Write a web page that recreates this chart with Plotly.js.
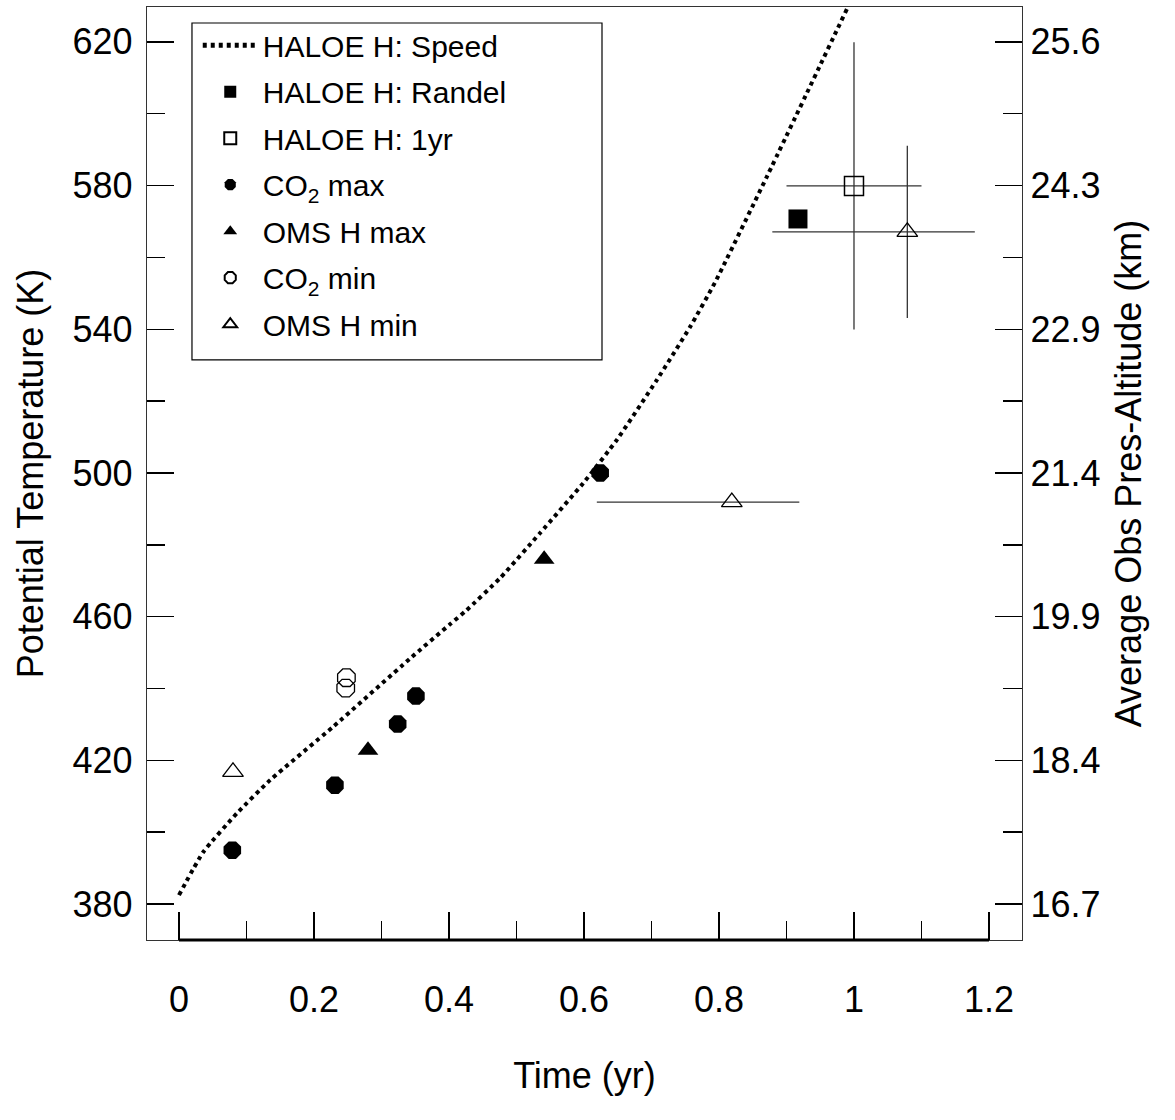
<!DOCTYPE html>
<html>
<head>
<meta charset="utf-8">
<script src="https://cdn.plot.ly/plotly-3.0.1.min.js"></script>
<style>html,body{margin:0;padding:0;background:#fff;}#chart{width:1175px;height:1120px;}</style>
</head>
<body>
<div id="chart"></div>
<script>
// HALOE H: Speed curve
const speedTime  = [0, 0.036, 0.086, 0.135, 0.228, 0.342, 0.401, 0.426, 0.476, 0.535, 0.599, 0.649, 0.708, 0.757, 0.794, 0.871, 0.991];
const speedTheta = [382.5, 394.5, 405.3, 414.5, 429.3, 448.3, 457.8, 461.8, 470.8, 483.3, 497.2, 509.3, 525.9, 540.6, 553.0, 582.5, 629.7];

// HALOE H: Randel
const randelTime  = [0.917];
const randelTheta = [570.7];

// HALOE H: 1yr
const oneYrTime   = [1.0];
const oneYrTheta  = [579.9];
const oneYrErrX   = [0.1];
const oneYrErrY   = [40];

// CO2 max
const co2MaxTime  = [0.079, 0.231, 0.324, 0.351, 0.624];
const co2MaxTheta = [395.0, 413.1, 430.1, 437.9, 500.0];

// OMS H max
const omsMaxTime  = [0.280, 0.541];
const omsMaxTheta = [422.8, 476.0];

// CO2 min
const co2MinTime  = [0.248, 0.247];
const co2MinTheta = [443.0, 440.1];

// OMS H min
const omsMinTime      = [0.080, 0.819, 1.079];
const omsMinTheta     = [416.8, 491.9, 567.1];
const omsMinErrXPlus  = [0, 0.1, 0.1];
const omsMinErrXMinus = [0, 0.2, 0.2];
const omsMinErrY      = [0, 0, 24];

// Axis ticks
const leftTickVals   = [380, 420, 460, 500, 540, 580, 620];
const rightTickText  = ['16.7', '18.4', '19.9', '21.4', '22.9', '24.3', '25.6'];
const minorTickVals  = [400, 440, 480, 520, 560, 600];

const FONT = 'Liberation Sans, Arial, sans-serif';
const errColor = '#333';

const traces = [
  {x: speedTime, y: speedTheta, mode: 'lines', name: 'HALOE H: Speed',
   line: {color: '#000', width: 4, dash: '4px,4px', shape: 'spline', smoothing: 0.5}, legendgroup: 'a'},
  {x: randelTime, y: randelTheta, mode: 'markers', name: 'HALOE H: Randel',
   marker: {symbol: 'square', size: 19, color: '#000'}, legendgroup: 'b'},
  {x: oneYrTime, y: oneYrTheta, mode: 'markers', name: 'HALOE H: 1yr',
   marker: {symbol: 'square-open', size: 19, color: '#000', line: {width: 1.5}},
   error_x: {type: 'data', array: oneYrErrX, width: 0, thickness: 1.3, color: errColor},
   error_y: {type: 'data', array: oneYrErrY, width: 0, thickness: 1.3, color: errColor},
   legendgroup: 'c'},
  {x: co2MaxTime, y: co2MaxTheta, mode: 'markers', name: 'CO<sub>2</sub> max',
   marker: {symbol: 'octagon', size: 19, color: '#000'}, legendgroup: 'd'},
  {x: omsMaxTime, y: omsMaxTheta, mode: 'markers', name: 'OMS H max',
   marker: {symbol: 'triangle-up', size: 18, color: '#000'}, legendgroup: 'e'},
  {x: co2MinTime, y: co2MinTheta, mode: 'markers', name: 'CO<sub>2</sub> min',
   marker: {symbol: 'octagon-open', size: 19, color: '#000', line: {width: 1.3}}, legendgroup: 'f'},
  {x: omsMinTime, y: omsMinTheta, mode: 'markers', name: 'OMS H min',
   marker: {symbol: 'triangle-up-open', size: 18, color: '#000', line: {width: 1.3}},
   error_x: {type: 'data', symmetric: false, array: omsMinErrXPlus, arrayminus: omsMinErrXMinus, width: 0, thickness: 1.3, color: errColor},
   error_y: {type: 'data', array: omsMinErrY, width: 0, thickness: 1.3, color: errColor},
   legendgroup: 'g'},
  {x: [], y: [], yaxis: 'y2', showlegend: false, hoverinfo: 'skip', mode: 'markers'}
];

const layout = {
  width: 1175, height: 1120,
  margin: {l: 147, r: 153, t: 7, b: 180},
  paper_bgcolor: '#fff', plot_bgcolor: '#fff',
  font: {family: FONT, color: '#000', size: 36},
  showlegend: true,
  legend: {
    x: 0.058, y: 0.987, xanchor: 'left', yanchor: 'top',
    borderwidth: 0, bgcolor: 'rgba(0,0,0,0)',
    font: {family: FONT, size: 30, color: '#000'},
    itemsizing: 'constant', itemwidth: 55, traceorder: 'grouped', tracegroupgap: 4.5
  },
  xaxis: {
    range: [-0.0474, 1.2489], tickmode: 'linear', tick0: 0, dtick: 0.2,
    ticks: 'inside', ticklen: 28, tickwidth: 1.5, tickcolor: '#000',
    minor: {ticks: 'inside', ticklen: 19, tickwidth: 1.5, tickcolor: '#000', tick0: 0, dtick: 0.1},
    showline: true, linecolor: '#333', linewidth: 1.2, mirror: true,
    showgrid: false, zeroline: false,
    tickfont: {family: FONT, size: 36}, ticklabelstandoff: 28,
    title: {text: 'Time (yr)', font: {family: FONT, size: 36}, standoff: 43}
  },
  yaxis: {
    range: [370, 629.7], tickmode: 'array', tickvals: leftTickVals,
    ticks: 'inside', ticklen: 27, tickwidth: 1.5, tickcolor: '#000',
    minor: {ticks: 'inside', ticklen: 18, tickwidth: 1.5, tickcolor: '#000', tickvals: minorTickVals},
    showline: true, linecolor: '#333', linewidth: 1.2, mirror: true,
    showgrid: false, zeroline: false,
    tickfont: {family: FONT, size: 36}, ticklabelstandoff: 6,
    title: {text: 'Potential Temperature (K)', font: {family: FONT, size: 36}, standoff: 18}
  },
  yaxis2: {
    overlaying: 'y', side: 'right', range: [370, 629.7],
    tickmode: 'array', tickvals: leftTickVals, ticktext: rightTickText,
    ticks: 'inside', ticklen: 27, tickwidth: 1.5, tickcolor: '#000',
    minor: {ticks: 'inside', ticklen: 19, tickwidth: 1.5, tickcolor: '#000', tickvals: minorTickVals},
    showline: true, linecolor: '#333', linewidth: 1.2,
    showgrid: false, zeroline: false,
    tickfont: {family: FONT, size: 36}, ticklabelstandoff: 0,
    title: {text: 'Average Obs Pres-Altitude (km)', font: {family: FONT, size: 36}, standoff: 16}
  },
  shapes: [
    {type: 'line', xref: 'x', yref: 'paper', x0: 0, x1: 1.2, y0: 0, y1: 0,
     line: {color: '#000', width: 3}},
    {type: 'rect', xref: 'paper', yref: 'paper', x0: 0.0514, x1: 0.52, y0: 0.6217, y1: 0.98285,
     line: {color: '#000', width: 1.2}, fillcolor: 'rgba(0,0,0,0)', layer: 'above'}
  ]
};

Plotly.newPlot('chart', traces, layout, {displayModeBar: false, staticPlot: true});
</script>
</body>
</html>
